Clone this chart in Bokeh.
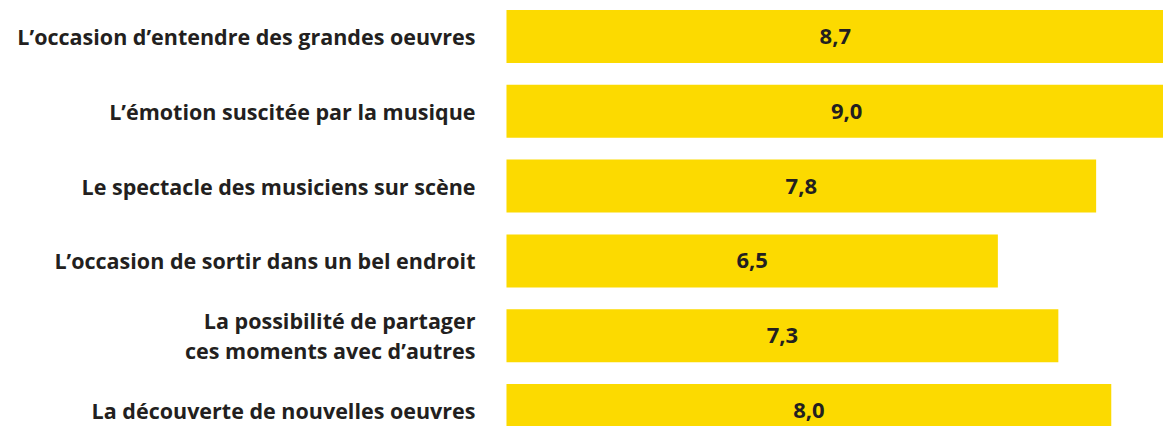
from bokeh.plotting import figure
from bokeh.models import Range1d, ColumnDataSource
from bokeh.core.properties import value
from bokeh.embed import file_html
from bokeh.resources import INLINE

categories = [
    "L\u2019occasion d\u2019entendre des grandes oeuvres",
    "L\u2019\u00e9motion suscit\u00e9e par la musique",
    "Le spectacle des musiciens sur sc\u00e8ne",
    "L\u2019occasion de sortir dans un bel endroit",
    "La possibilit\u00e9 de partager\nces moments avec d\u2019autres",
    "La d\u00e9couverte de nouvelles oeuvres",
]
values = [8.7, 9.0, 7.8, 6.5, 7.3, 8.0]
value_labels = ["8,7", "9,0", "7,8", "6,5", "7,3", "8,0"]

idx = list(range(len(categories)))
src = ColumnDataSource(dict(
    y=idx,
    v=values,
    mid=[v / 2 for v in values],
    vl=value_labels,
    cat=categories,
    lx=[-0.41] * len(categories),
))

p = figure(width=1163, height=426, output_backend="svg", toolbar_location=None,
           x_range=Range1d(-6.693, 8.691), y_range=Range1d(5.214, -0.4813),
           min_border=0, outline_line_color=None)
p.axis.visible = False
p.grid.visible = False

p.hbar(y="y", left=0, right="v", height=0.709, source=src,
       fill_color="#FCDA00", line_color=None)

p.text(x="mid", y="y", text="vl", source=src, text_align="center",
       text_baseline="middle", text_font=value("Open Sans"), text_font_style="bold",
       text_font_size="22px", text_color="#231F20")

p.text(x="lx", y="y", text="cat", source=src, text_align="right",
       text_baseline="middle", text_font=value("Open Sans"), text_font_style="bold",
       text_font_size="21.5px", text_color="#231F20", text_line_height=1.05)

open("out.html", "w").write(file_html(p, INLINE))
